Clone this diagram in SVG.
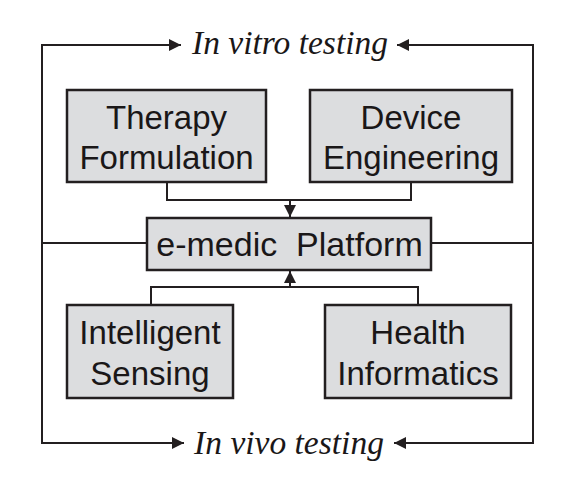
<svg xmlns="http://www.w3.org/2000/svg" width="570" height="494" viewBox="0 0 570 494">
<style>
.box{fill:#dcdddf;stroke:#231f20;stroke-width:2.5}
.lbl{font-family:"Liberation Sans",Arial,sans-serif;font-size:33px;fill:#1a1718;text-anchor:middle}
.it{font-family:"Liberation Serif","Times New Roman",serif;font-style:italic;font-size:33.5px;fill:#1a1718;text-anchor:middle}
.ln{fill:none;stroke:#231f20;stroke-width:2}
</style>
<defs>
<marker id="ah" viewBox="0 0 10 10" refX="10" refY="5" markerWidth="6.5" markerHeight="6" orient="auto" markerUnits="strokeWidth">
<path d="M0,0 L10,5 L0,10 z" fill="#231f20"/>
</marker>
</defs>
<g id="connectors">
<path class="ln" d="M147,243 H42 V45 H181" marker-end="url(#ah)"/>
<path class="ln" d="M431,243 H533 V45 H397" marker-end="url(#ah)"/>
<path class="ln" d="M42,243 V443 H184" marker-end="url(#ah)"/>
<path class="ln" d="M533,243 V443 H394" marker-end="url(#ah)"/>
<path class="ln" d="M167,182 V200 H411 V182"/>
<path class="ln" d="M290,200 V217" marker-end="url(#ah)"/>
<path class="ln" d="M151,305 V287 H418 V305"/>
<path class="ln" d="M290,287 V271" marker-end="url(#ah)"/>
</g>
<g id="invitro"><text class="it" x="290" y="54">In vitro testing</text></g>
<g id="invivo"><text class="it" x="289" y="454">In vivo testing</text></g>
<g id="therapy">
<rect class="box" x="67" y="90" width="199" height="92"/>
<text class="lbl" x="166.5" y="129">Therapy</text>
<text class="lbl" x="166.5" y="169">Formulation</text>
</g>
<g id="device">
<rect class="box" x="310" y="90" width="202" height="92"/>
<text class="lbl" x="411" y="129">Device</text>
<text class="lbl" x="411" y="169">Engineering</text>
</g>
<g id="platform">
<rect class="box" x="147" y="218" width="284" height="52"/>
<text class="lbl" x="289.5" y="256" style="font-size:34px" xml:space="preserve">e-medic  Platform</text>
</g>
<g id="sensing">
<rect class="box" x="67" y="305" width="166" height="93"/>
<text class="lbl" x="150" y="344">Intelligent</text>
<text class="lbl" x="150" y="385">Sensing</text>
</g>
<g id="informatics">
<rect class="box" x="325" y="305" width="186" height="93"/>
<text class="lbl" x="418" y="344">Health</text>
<text class="lbl" x="418" y="385">Informatics</text>
</g>
</svg>
